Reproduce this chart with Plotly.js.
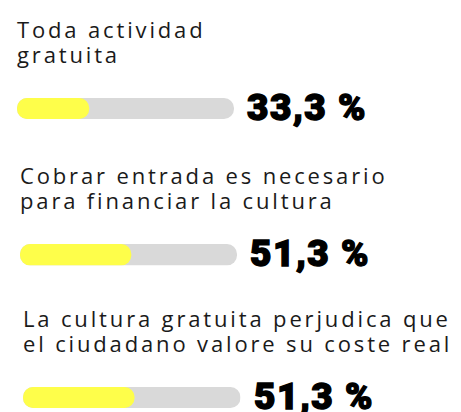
<!DOCTYPE html>
<html>
<head>
<meta charset="utf-8">
<script src="https://cdn.plot.ly/plotly-3.0.1.min.js"></script>
<style>
html,body{margin:0;padding:0;background:#fff;}
#chart{width:461px;height:412px;}
text[style*="Open Sans"]{letter-spacing:2.85px;}
text[style*="Roboto"]{stroke:#000;stroke-width:1.4px;paint-order:stroke fill;letter-spacing:1.5px;}
</style>
</head>
<body>
<div id="chart"></div>
<script>
// Data
var titleLine1 = ["Toda actividad", "Cobrar entrada es necesario", "La cultura gratuita perjudica que"];
var titleLine2 = ["gratuita", "para financiar la cultura", "el ciudadano valore su coste real"];
var values = [33.3, 51.3, 51.3];
var maxValue = 100;

// Layout geometry (pixels) per row
var W = 461, H = 412;
var barLeft = [17, 20, 23];
var barRight = [234, 237, 240.5];
var barTop = [98, 244, 387];
var barBottom = [119, 265.5, 408];
var titleBase1 = [35.5, 182, 325];
var lineGap = 25.5;
var titleSize = 22;

var traces = [];
var layout = {
  width: W, height: H,
  margin: {l:0, r:0, t:0, b:0},
  paper_bgcolor: '#fff', plot_bgcolor: 'rgba(0,0,0,0)',
  showlegend: false,
  barmode: 'overlay',
  annotations: []
};

function pill(v, color, xa, ya) {
  return {
    type: 'bar', orientation: 'h',
    base: [0], x: [v], y: [0], width: 1,
    xaxis: xa, yaxis: ya,
    marker: {color: color, cornerradius: '50%', line: {width: 0}},
    hoverinfo: 'skip'
  };
}

for (var i = 0; i < values.length; i++) {
  var sfx = i === 0 ? '' : String(i + 1);
  var xa = 'x' + sfx, ya = 'y' + sfx;
  traces.push(pill(maxValue, '#d9d9d9', xa, ya));
  traces.push(pill(values[i], '#fefe4a', xa, ya));
  layout['xaxis' + sfx] = {
    domain: [barLeft[i] / W, barRight[i] / W],
    range: [0, maxValue], visible: false, fixedrange: true,
    anchor: ya
  };
  layout['yaxis' + sfx] = {
    domain: [1 - barBottom[i] / H, 1 - barTop[i] / H],
    range: [-0.5, 0.5], visible: false, fixedrange: true,
    anchor: xa
  };
  var titleTop = titleBase1[i] - 23.6;
  layout.annotations.push({
    text: titleLine1[i] + '<br>' + titleLine2[i],
    xref: xa, x: 0, xanchor: 'left', xshift: -2.5, align: 'left',
    yref: 'paper', y: 1 - titleTop / H, yanchor: 'top',
    showarrow: false,
    font: {family: 'Open Sans', size: titleSize, color: '#1a1a1a'}
  });
  layout.annotations.push({
    text: values[i].toFixed(1).replace('.', ',') + ' %',
    xref: xa, x: maxValue, xanchor: 'left', xshift: 11,
    yref: ya, y: 0, yanchor: 'middle', yshift: 1,
    showarrow: false,
    font: {family: 'Roboto', size: 37, weight: 900, color: '#000'}
  });
}

Plotly.newPlot('chart', traces, layout, {staticPlot: true, displayModeBar: false}).then(function (gd) {
  // tighten the line spacing of the two-line titles to match the original
  var lines = gd.querySelectorAll('.annotation-text tspan.line');
  lines.forEach(function (t) {
    if (t.getAttribute('dy') && parseFloat(t.getAttribute('dy')) > 0) {
      t.setAttribute('dy', (lineGap / titleSize).toFixed(3) + 'em');
    }
  });
});
</script>
</body>
</html>
